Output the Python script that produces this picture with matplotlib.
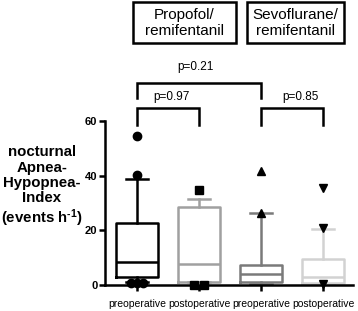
import matplotlib
matplotlib.use("Agg")
import matplotlib.pyplot as plt
from matplotlib.patches import Rectangle

plt.rcParams['font.family'] = ['Liberation Sans', 'DejaVu Sans']
plt.rcParams['mathtext.fontset'] = 'custom'
plt.rcParams['mathtext.bf'] = 'Liberation Sans:bold'
plt.rcParams['mathtext.rm'] = 'Liberation Sans:bold'
plt.rcParams['mathtext.default'] = 'bf'

# ---- data ----
categories = ["preoperative", "postoperative", "preoperative", "postoperative"]
whislo = [1.0, 1.0, 0.3, 0.3]
q1 = [2.9, 1.1, 1.1, 0.6]
medians = [8.4, 7.7, 4.0, 2.9]
q3 = [22.7, 28.6, 7.3, 9.5]
whishi = [38.8, 31.5, 26.3, 20.5]
outliers = [[54.6, 40.3, 0.8, 0.8, 0.8], [34.8, 0.0, 0.0], [41.8, 26.3], [35.5, 20.9, 0.3]]
outlier_offsets = [[0, 0, -0.1, 0, 0.1], [0, -0.08, 0.08], [0, 0], [0, 0, 0]]
colors = ["#000000", "#a0a0a0", "#7a7a7a", "#d2d2d2"]
markers = ["o", "s", "^", "v"]
groups = ["Propofol/\nremifentanil", "Sevoflurane/\nremifentanil"]
comparisons = [(0, 1, "p=0.97"), (0, 2, "p=0.21"), (2, 3, "p=0.85")]
yticks = [0, 20, 40, 60]

fig = plt.figure(figsize=(3.58, 3.11), dpi=100)
ax = fig.add_axes([105/358, 26/311, 248/358, 164/311])

stats = []
for i in range(4):
    stats.append(dict(med=medians[i], q1=q1[i], q3=q3[i], whislo=whislo[i], whishi=whishi[i], fliers=[]))

lw = 1.8
for i, st in enumerate(stats):
    c = colors[i]
    ax.bxp([st], positions=[i], widths=0.68, showfliers=False,
           boxprops=dict(color=c, linewidth=lw),
           whiskerprops=dict(color=c, linewidth=lw),
           capprops=dict(color=c, linewidth=lw),
           medianprops=dict(color=c, linewidth=lw),
           capwidths=0.36, manage_ticks=False)
    for v, off in zip(outliers[i], outlier_offsets[i]):
        ax.plot(i + off, v, marker=markers[i], color='black', markersize=6,
                linestyle='none', clip_on=False, zorder=5)

ax.set_xlim(-0.52, 3.48)
ax.set_ylim(0, 60)
ax.set_xticks(range(4))
ax.set_xticklabels(categories, fontsize=7.5)
ax.set_yticks(yticks)
ax.set_yticklabels([str(t) for t in yticks], fontsize=8, fontweight='bold')
for s in ['top', 'right']:
    ax.spines[s].set_visible(False)
for s in ['left', 'bottom']:
    ax.spines[s].set_linewidth(lw)
ax.tick_params(axis='both', width=lw, length=4, pad=1.5)
ax.tick_params(axis='x', pad=6)

ax.set_ylabel("nocturnal\nApnea-\nHypopnea-\nIndex\n(events h$^{\\text{-1}}$)",
              fontsize=10.8, fontweight='bold', rotation=0, multialignment='center',
              linespacing=1.12, ha='center', va='center')
ax.yaxis.set_label_coords((42 - 105)/248, (285 - 187)/164)

# brackets
bracket_levels = {"p=0.97": (64.8, 58.6, 68.8, 0.56), "p=0.21": (74.0, 68.5, 79.6, 0.94),
                  "p=0.85": (64.8, 58.6, 68.8, 2.63)}
for a, b, lab in comparisons:
    top, leg, ty, tx = bracket_levels[lab]
    ax.plot([a, a, b, b], [leg, top, top, leg], color='black', linewidth=lw,
            clip_on=False, solid_joinstyle='miter')
    ax.text(tx, ty, lab, fontsize=8.5, ha='center', va='center')

# group header boxes
header_boxes = [(133, 236), (247, 344)]
for (x0, x1), g in zip(header_boxes, groups):
    fig.patches.append(Rectangle((x0/358, 1 - 43/311), (x1 - x0)/358, 41/311,
                                 transform=fig.transFigure, fill=False,
                                 edgecolor='black', linewidth=lw))
    fig.text((x0 + x1)/2/358, 1 - 23/311, g, fontsize=11, ha='center', va='center',
             linespacing=1.1)

fig.savefig("out.png", dpi=100)
